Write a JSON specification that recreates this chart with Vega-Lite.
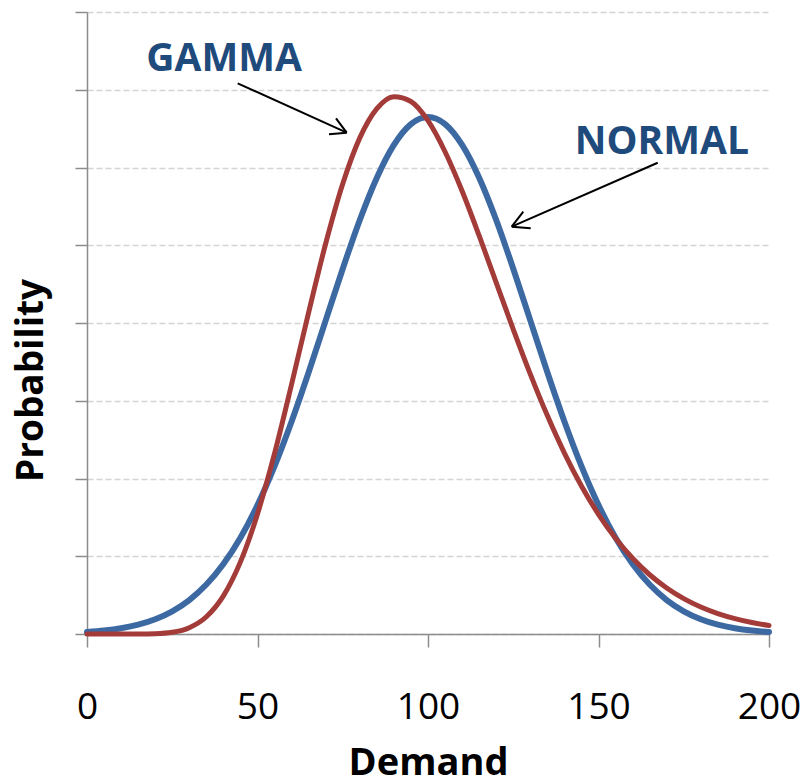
{
  "$schema": "https://vega.github.io/schema/vega-lite/v6.json",
  "width": 682,
  "height": 622,
  "autosize": "none",
  "padding": {"left": 87, "top": 12, "right": 38, "bottom": 145},
  "background": "white",
  "config": {"view": {"stroke": null}, "font": "Open Sans"},
  "datasets": {
    "normal": [
      {"d":0,"p":0.0000513},{"d":5,"p":0.0000884},{"d":10,"p":0.000148},{"d":15,"p":0.000240},{"d":20,"p":0.000380},
      {"d":25,"p":0.000584},{"d":30,"p":0.000874},{"d":35,"p":0.001272},{"d":40,"p":0.001800},{"d":45,"p":0.002476},
      {"d":50,"p":0.003317},{"d":55,"p":0.004318},{"d":60,"p":0.005467},{"d":65,"p":0.006733},{"d":70,"p":0.008066},
      {"d":75,"p":0.009397},{"d":80,"p":0.010648},{"d":85,"p":0.011735},{"d":90,"p":0.012580},{"d":95,"p":0.013115},
      {"d":100,"p":0.013298},{"d":105,"p":0.013115},{"d":110,"p":0.012580},{"d":115,"p":0.011735},{"d":120,"p":0.010648},
      {"d":125,"p":0.009397},{"d":130,"p":0.008066},{"d":135,"p":0.006733},{"d":140,"p":0.005467},{"d":145,"p":0.004318},
      {"d":150,"p":0.003317},{"d":155,"p":0.002476},{"d":160,"p":0.001800},{"d":165,"p":0.001272},{"d":170,"p":0.000874},
      {"d":175,"p":0.000584},{"d":180,"p":0.000380},{"d":185,"p":0.000240},{"d":190,"p":0.000148},{"d":195,"p":0.0000884},
      {"d":200,"p":0.0000513}
    ],
    "gamma": [
      {"d":0,"p":0},{"d":5,"p":0},{"d":10,"p":0},{"d":15,"p":0.0000008},{"d":20,"p":0.0000082},
      {"d":25,"p":0.000045},{"d":30,"p":0.000163},{"d":35,"p":0.000444},{"d":40,"p":0.000982},{"d":45,"p":0.001855},
      {"d":50,"p":0.003089},{"d":55,"p":0.004645},{"d":60,"p":0.006425},{"d":65,"p":0.008275},{"d":70,"p":0.010045},
      {"d":75,"p":0.011581},{"d":80,"p":0.012762},{"d":85,"p":0.013515},{"d":90,"p":0.013822},{"d":95,"p":0.013699},
      {"d":100,"p":0.013204},{"d":105,"p":0.012405},{"d":110,"p":0.011395},{"d":115,"p":0.010246},{"d":120,"p":0.009041},
      {"d":125,"p":0.007838},{"d":130,"p":0.006686},{"d":135,"p":0.005618},{"d":140,"p":0.004655},{"d":145,"p":0.003808},
      {"d":150,"p":0.003079},{"d":155,"p":0.002462},{"d":160,"p":0.001947},{"d":165,"p":0.001524},{"d":170,"p":0.001184},
      {"d":175,"p":0.000910},{"d":180,"p":0.000694},{"d":185,"p":0.000525},{"d":190,"p":0.000395},{"d":195,"p":0.000294},
      {"d":200,"p":0.000218}
    ],
    "labels": [
      {"d":40.2,"p":0.01479,"t":"GAMMA"},
      {"d":168.6,"p":0.012656,"t":"NORMAL"}
    ],
    "arrows": [
      {"d":44.19,"p":0.014166,"d2":76.16,"p2":0.012895},
      {"d":73.02,"p":0.013266,"d2":76.16,"p2":0.012895},
      {"d":70.97,"p":0.012854,"d2":76.16,"p2":0.012895},
      {"d":167.36,"p":0.012123,"d2":124.55,"p2":0.010477},
      {"d":127.95,"p":0.010863,"d2":124.55,"p2":0.010477},
      {"d":130.12,"p":0.010436,"d2":124.55,"p2":0.010477}
    ]
  },
  "layer": [
    {
      "data": {"name": "normal"},
      "mark": {"type": "line", "color": "#3d69a2", "strokeWidth": 6, "interpolate": "monotone", "strokeCap": "round", "strokeJoin": "round"},
      "encoding": {
        "x": {
          "field": "d", "type": "quantitative",
          "scale": {"domain": [0, 200], "nice": false, "zero": false},
          "axis": {
            "values": [0, 50, 100, 150, 200],
            "grid": false,
            "domainColor": "#8c8c8c", "domainWidth": 1.5,
            "tickColor": "#8c8c8c", "tickWidth": 1.5, "tickSize": 13,
            "labelFont": "Open Sans", "labelFontSize": 37, "labelColor": "#000000",
            "labelPadding": 42, "labelFlush": false,
            "title": "Demand",
            "titleFont": "Open Sans", "titleFontSize": 38, "titleFontWeight": "bold", "titleColor": "#000000",
            "titleBaseline": "alphabetic", "titleY": 140
          }
        },
        "y": {
          "field": "p", "type": "quantitative",
          "scale": {"domain": [0, 0.016], "nice": false},
          "axis": {
            "values": [0, 0.002, 0.004, 0.006, 0.008, 0.01, 0.012, 0.014, 0.016],
            "labels": false,
            "grid": true, "gridColor": "#d4d4d4", "gridDash": [6, 3], "gridWidth": 1.5,
            "domainColor": "#8c8c8c", "domainWidth": 1.5,
            "tickColor": "#8c8c8c", "tickWidth": 1.5, "tickSize": 12,
            "title": "Probability",
            "titleFont": "Open Sans", "titleFontSize": 37, "titleFontWeight": "bold", "titleColor": "#000000",
            "titleAngle": -90, "titleAlign": "center", "titleBaseline": "middle",
            "titleX": -56, "titleY": 368
          }
        }
      }
    },
    {
      "data": {"name": "gamma"},
      "mark": {"type": "line", "color": "#a33b39", "strokeWidth": 5, "interpolate": "monotone", "strokeCap": "round", "strokeJoin": "round"},
      "encoding": {
        "x": {"field": "d", "type": "quantitative"},
        "y": {"field": "p", "type": "quantitative"}
      }
    },
    {
      "data": {"name": "arrows"},
      "mark": {"type": "rule", "color": "#000000", "strokeWidth": 2},
      "encoding": {
        "x": {"field": "d", "type": "quantitative"},
        "y": {"field": "p", "type": "quantitative"},
        "x2": {"field": "d2"},
        "y2": {"field": "p2"}
      }
    },
    {
      "data": {"name": "labels"},
      "mark": {"type": "text", "font": "Open Sans", "fontSize": 39, "fontWeight": "bold", "color": "#1f4a7c", "align": "center", "baseline": "middle"},
      "encoding": {
        "x": {"field": "d", "type": "quantitative"},
        "y": {"field": "p", "type": "quantitative"},
        "text": {"field": "t"}
      }
    }
  ]
}
